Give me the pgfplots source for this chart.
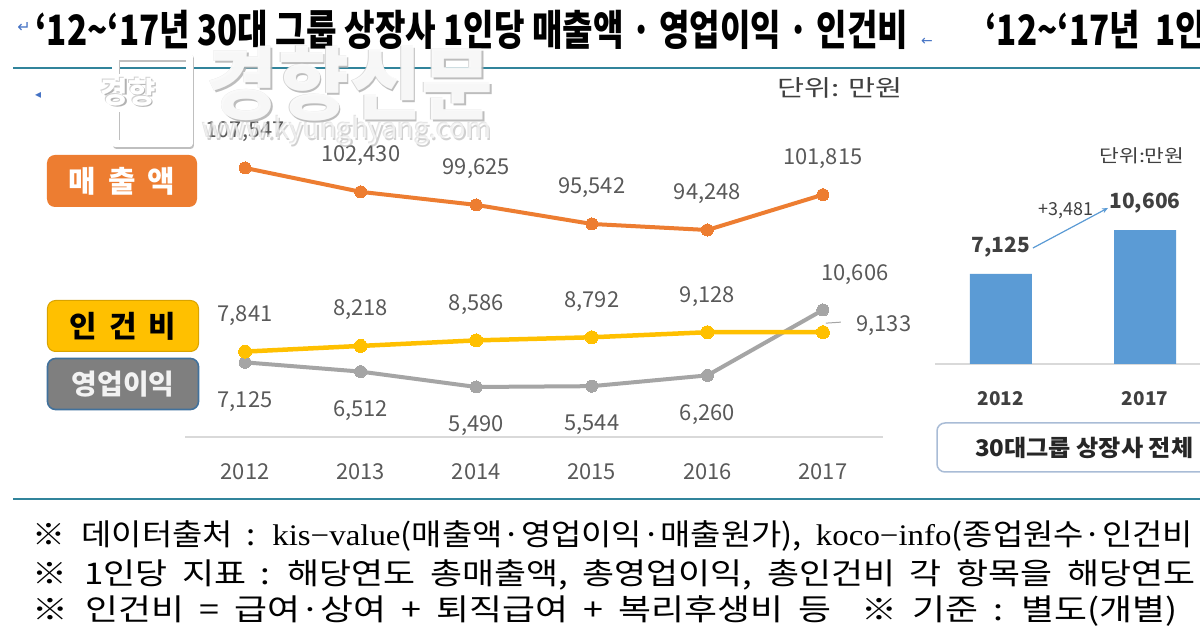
\documentclass[border=0pt]{standalone}
\usepackage{pgfplots}
\pgfplotsset{compat=1.18}
\usepackage{fontspec}
\usepackage{graphicx}
\usetikzlibrary{arrows.meta}
\setmainfont{Noto Sans CJK KR}
\newfontfamily\ser{Liberation Serif}
\newfontfamily\dv{DejaVu Sans}
\definecolor{cOrange}{HTML}{ED7D31}
\definecolor{cYellow}{HTML}{FFC000}
\definecolor{cGray}{HTML}{A5A5A5}
\definecolor{cDark}{HTML}{7F7F7F}
\definecolor{cLabel}{HTML}{595959}
\definecolor{cText}{HTML}{404040}
\definecolor{cTeal}{HTML}{31849B}
\definecolor{cBlue}{HTML}{5B9BD5}
\definecolor{cMark}{HTML}{4472C4}
\definecolor{cAxis}{HTML}{D9D9D9}
\definecolor{cBorder}{HTML}{41719C}
\definecolor{cBox}{HTML}{A9BCD6}
\newcommand{\fs}[1]{\fontsize{#1}{#1}\selectfont}
\newcommand{\fitw}[2]{\resizebox{#1}{\height}{#2}}
\newlength\tlen
\newcommand\titleA{‘12\textasciitilde‘17년 30대 그룹 상장사 1인당 매출액 · 영업이익 · 인건비}
\newcommand\titleB{‘12\textasciitilde‘17년\ \ 1인당}
\newcommand\emboss[5]{% x y fontsettings text opacity
  \node[text=black!30, font=#3, text opacity=#5] at (#1+1.5,#2-1.5) {#4};
  \node[text=black!18, font=#3, text opacity=#5] at (#1-0.8,#2+0.8) {#4};
  \node[text=white, font=#3, text opacity=#5] at (#1,#2) {#4};}
\begin{document}%
\settowidth{\tlen}{\fs{42}\bfseries\titleA}%
\pgfmathsetmacro\tfac{876.27/\tlen}%
\begin{tikzpicture}[x=1bp,y=1bp]
\useasboundingbox (0,0) rectangle (1200,630);
\clip (0,0) rectangle (1200,630);
\fill[white] (0,0) rectangle (1200,630);
% rules
\draw[cTeal, line width=2.2bp] (13,562) -- (1200,562);
\draw[cTeal, line width=2.2bp] (13,131) -- (1200,131);
% titles
\node[anchor=base west, inner sep=0pt] at (35,584) {\scalebox{\tfac}[1]{\fs{42}\bfseries\titleA}};
\node[anchor=base west, inner sep=0pt] at (985,584) {\scalebox{\tfac}[1]{\fs{42}\bfseries\titleB}};
\node[text=cMark, font=\dv\fs{16}, inner sep=0pt] at (24,602) {↵};
\node[text=cMark, font=\dv\fs{14}, inner sep=0pt] at (927,588) {←};
\node[text=cMark, font=\dv\fs{12}, inner sep=0pt] at (38,535) {◂};
% unit
\node[anchor=center, text=cText, inner sep=0pt] at (840,542) {\fitw{125bp}{\fs{23}단위: 만원}};
% legend boxes
\node[fill=cOrange, rounded corners=8bp, minimum width=150bp, minimum height=52bp, text=white, font=\fs{30}\bfseries, inner sep=0pt] at (122,449) {매\,\ 출\,\ 액};
\node[fill=cYellow, draw=cYellow!85!black, line width=1bp, rounded corners=8bp, minimum width=151bp, minimum height=51bp, text=black, font=\fs{30}\bfseries, inner sep=0pt] at (123,304) {인\,\ 건\,\ 비};
\node[fill=cDark, draw=cBorder, line width=1.6bp, rounded corners=8bp, minimum width=151bp, minimum height=51bp, text=white!95!black, font=\fs{28}\bfseries, inner sep=0pt] at (123,246) {영업이익};
% ---- upper axis: revenue
\begin{axis}[at={(185bp,389.5bp)}, anchor=south west, scale only axis, width=698bp, height=93.3bp,
  xmin=2011.48, xmax=2017.52, ymin=92000, ymax=112000, hide axis, clip=false]
\addplot[cOrange, line width=4bp, mark=*, mark size=6bp, mark options={fill=cOrange, draw=cOrange, line width=0pt},
  point meta=explicit symbolic, nodes near coords,
  every node near coord/.append style={anchor=center, yshift=36bp, font=\fs{22}, text=cLabel, inner sep=0pt}]
  coordinates {(2012,107547)[107,547] (2013,102430)[102,430] (2014,99625)[99,625] (2015,95542)[95,542] (2016,94248)[94,248] (2017,101815)[101,815]};
\end{axis}
% ---- lower axis: operating profit and labour cost
\begin{axis}[at={(185bp,193bp)}, anchor=south west, scale only axis, width=698bp, height=150.5bp,
  xmin=2011.48, xmax=2017.52, ymin=2167, ymax=12167, clip=false,
  axis x line*=bottom, axis y line=none, x axis line style={draw=cAxis, line width=1.8bp, -},
  xtick={2012,2013,2014,2015,2016,2017}, xticklabels={2012,2013,2014,2015,2016,2017}, major tick length=0pt,
  xticklabel style={anchor=center, yshift=-35bp, font=\fs{22}, text=cLabel}, ytick=\empty]
\addplot[cGray, line width=4bp, mark=*, mark size=6bp, mark options={fill=cGray, draw=cGray, line width=0pt}]
  coordinates {(2012,7125) (2013,6512) (2014,5490) (2015,5544) (2016,6260) (2017,10606)};
\addplot[cYellow, line width=4.5bp, mark=*, mark size=6.5bp, mark options={fill=cYellow, draw=cYellow, line width=0pt}]
  coordinates {(2012,7841) (2013,8218) (2014,8586) (2015,8792) (2016,9128) (2017,9133)};
\addplot[draw=none, mark=none, point meta=explicit symbolic, nodes near coords,
  every node near coord/.append style={anchor=center, yshift=-39bp, font=\fs{22}, text=cLabel, inner sep=0pt}]
  coordinates {(2012,7125)[7,125] (2013,6512)[6,512] (2014,5490)[5,490] (2015,5544)[5,544] (2016,6260)[6,260]};
\addplot[draw=none, mark=none, point meta=explicit symbolic, nodes near coords,
  every node near coord/.append style={anchor=center, xshift=32bp, yshift=35bp, font=\fs{22}, text=cLabel, inner sep=0pt}]
  coordinates {(2017,10606)[10,606]};
\addplot[draw=none, mark=none, point meta=explicit symbolic, nodes near coords,
  every node near coord/.append style={anchor=center, yshift=36bp, font=\fs{22}, text=cLabel, inner sep=0pt}]
  coordinates {(2012,7841)[7,841] (2013,8218)[8,218] (2014,8586)[8,586] (2015,8792)[8,792] (2016,9128)[9,128]};
\addplot[draw=none, mark=none, point meta=explicit symbolic, nodes near coords,
  every node near coord/.append style={anchor=center, xshift=61bp, yshift=7bp, font=\fs{22}, text=cLabel, inner sep=0pt}]
  coordinates {(2017,9133)[9,133]};
\draw[cGray, line width=1bp] (axis cs:2017,9133) ++(3bp,9bp) -- ++(15bp,1bp);
\end{axis}
% ---- right panel: bars
\begin{axis}[at={(935bp,266bp)}, anchor=south west, scale only axis, width=296.4bp, height=164.2bp,
  xmin=-0.458, xmax=1.6, ymin=0, ymax=13000, clip=false,
  axis x line*=bottom, axis y line=none, x axis line style={draw=cAxis, line width=1.5bp, -},
  xtick={0,1}, xticklabels={2012,2017}, major tick length=0pt,
  xticklabel style={anchor=center, yshift=-35bp, font=\fs{19}\bfseries, text=cText}, ytick=\empty]
\addplot[ybar, bar width=62bp, fill=cBlue, draw=none, point meta=explicit symbolic, nodes near coords,
  every node near coord/.append style={anchor=center, yshift=27bp, font=\fs{21}\bfseries, text=cText, inner sep=0pt}]
  coordinates {(0,7125)[7,125] (1,10606)[10,606]};
\draw[cBlue, line width=1.2bp, -{Stealth[length=6bp,width=5bp]}] (axis cs:0.222,9184) -- (axis cs:0.743,12352);
\node[font=\fs{18}, text=cText, inner sep=1pt] at (axis cs:0.451,12114) {+3,481};
\end{axis}
\node[text=cText, inner sep=0pt] at (1142,474) {\fitw{85bp}{\fs{18}단위:만원}};
\draw[cBox, line width=1.5bp, fill=white, rounded corners=8bp] (937,158) rectangle (1220,207);
\node[anchor=west, text=black!85, inner sep=0pt] at (975,182) {\fitw{218bp}{\fs{23}\bfseries 30대그룹 상장사 전체}};
% ---- footnotes
\node[anchor=base west, inner sep=0pt] at (32,84) {\fitw{1161bp}{\fs{30}\spaceskip=0.42em ※\enspace 데이터출처 : {\ser kis−value}(매출액·영업이익·매출원가), {\ser koco−info}(종업원수·인건비}};
\node[anchor=base west, inner sep=0pt] at (32,45) {\fitw{1163bp}{\fs{30}\spaceskip=0.42em ※\enspace 1인당 지표 : 해당연도 총매출액, 총영업이익, 총인건비 각 항목을 해당연도}};
\node[anchor=base west, inner sep=0pt] at (32,9) {\fitw{1145bp}{\fs{30}\spaceskip=0.42em ※\enspace 인건비 = 급여·상여 + 퇴직급여 + 복리후생비 등\ \ ※ 기준 : 별도(개별)}};
% ---- watermark
\draw[black!25, line width=7bp, line join=round] (116.5,571.5) -- (190.5,571.5) -- (190.5,484.5) -- (116.5,484.5) -- cycle;
\draw[white, line width=7bp, line join=round] (115,573) -- (189,573) -- (189,486) -- (115,486) -- cycle;
\fill[white] (96,518) rectangle (165,556);
\emboss{128}{538}{\fs{30}\bfseries}{경향}{1}
\emboss{350}{546}{}{\fitw{286bp}{\fs{80}\bfseries 경향신문}}{0.85}
\emboss{347}{499}{}{\fitw{289bp}{\fs{28}www.kyunghyang.com}}{0.6}
\end{tikzpicture}%
\end{document}
